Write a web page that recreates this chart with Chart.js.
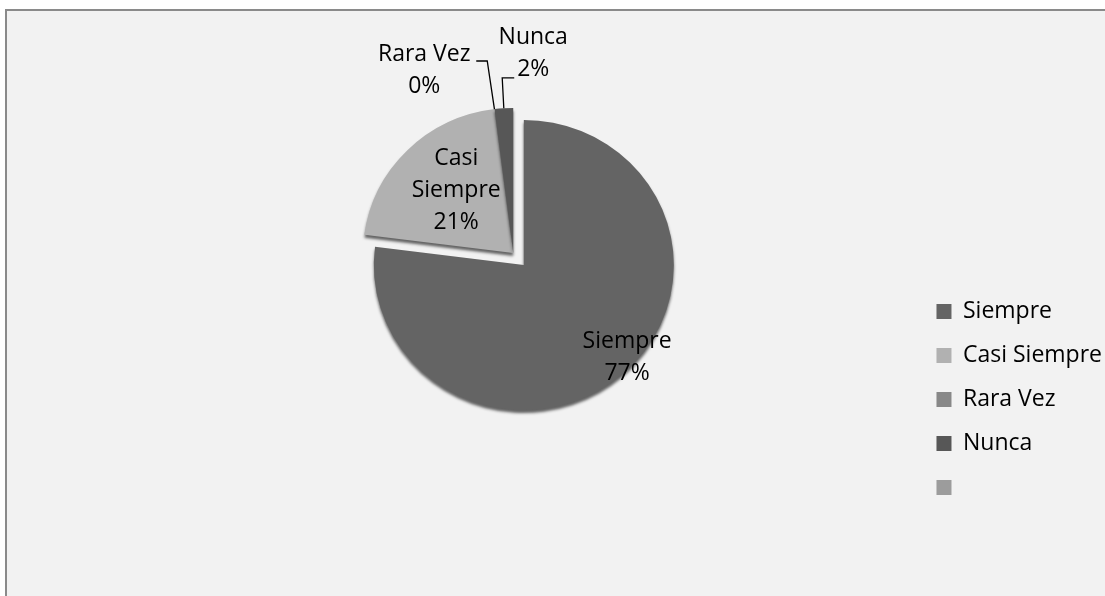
<!DOCTYPE html>
<html>
<head>
<meta charset="utf-8">
<script src="https://cdn.jsdelivr.net/npm/chart.js@4/dist/chart.umd.min.js"></script>
<style>
  html, body { margin: 0; padding: 0; background: #fff; overflow: hidden; }
  #frame { position: absolute; left: 5px; top: 9px; width: 1120px; height: 620px;
           background: #f2f2f2; border: 2px solid #8a8a8a; }
  #pie { position: absolute; left: 0; top: 0; }
</style>
</head>
<body>
<div id="frame"><canvas id="pie" width="1105" height="585"></canvas></div>
<script>
// chart data
const categories = ['Siempre', 'Casi Siempre', 'Rara Vez', 'Nunca', ''];
const percentages = [77, 21, 0, 2, 0];
const sliceColors = ['#646464', '#b1b1b1', '#888888', '#575757', '#9c9c9c'];

const FONT = '"Open Sans", sans-serif';
const LINE = 32;      // label line spacing
const CAP = 16;       // approx cap height, to centre lines
const TILT = 0.967;   // squash the pie a little like the 3D original
const explode = [16, 0, 0, 0, 0];

// where each slice label sits (inside: polar tweak, outside: offset from edge + leader)
const labelPlacement = [
  { inside: true, f: 0.932, da: -6.2 },
  { inside: true, f: 0.583, da: 4.3, wrap: true },
  { inside: false, dx: -70.2, dy: -39.6, ex: -7.2, ey: -48.1, hx: -11 },
  { inside: false, dx: 29.4, dy: -55.8, ex: -1.6, ey: -30.3, hx: 12 },
  null
];

// draw the arcs ourselves so the exploded slice is only moved, not enlarged
const pieDraw = {
  id: 'pieDraw',
  beforeDatasetsDraw(chart) {
    const ctx = chart.ctx;
    chart.getDatasetMeta(0).data.forEach((arc, i) => {
      const { x, y, startAngle, endAngle } =
        arc.getProps(['x', 'y', 'startAngle', 'endAngle'], true);
      const mid = (startAngle + endAngle) / 2;
      ctx.save();
      ctx.shadowColor = 'rgba(0,0,0,0.6)';
      ctx.shadowBlur = 3;
      ctx.shadowOffsetY = 3;
      ctx.translate(Math.cos(mid) * explode[i], Math.sin(mid) * explode[i]);
      ctx.translate(x, y);
      ctx.scale(1, TILT);
      ctx.translate(-x, -y);
      arc.draw(ctx);
      ctx.restore();
    });
    return false;
  }
};

const sliceLabels = {
  id: 'sliceLabels',
  afterDraw(chart) {
    const ctx = chart.ctx;
    const arcs = chart.getDatasetMeta(0).data;
    ctx.save();
    ctx.font = '23px ' + FONT;
    ctx.fillStyle = '#000';
    ctx.strokeStyle = '#000';
    ctx.lineWidth = 1.3;
    ctx.textAlign = 'center';
    ctx.textBaseline = 'alphabetic';
    arcs.forEach((arc, i) => {
      const p = labelPlacement[i];
      if (!p) return;
      const { x, y, startAngle, endAngle, outerRadius } =
        arc.getProps(['x', 'y', 'startAngle', 'endAngle', 'outerRadius'], true);
      const mid = (startAngle + endAngle) / 2;
      let cx, cy;
      if (p.inside) {
        const a = mid + p.da * Math.PI / 180;
        cx = x + Math.cos(mid) * explode[i] + Math.cos(a) * outerRadius * p.f;
        cy = y + Math.sin(mid) * explode[i] + Math.sin(a) * outerRadius * p.f * TILT;
      } else {
        const ax = x + Math.cos(mid) * outerRadius;
        const ay = y + Math.sin(mid) * outerRadius * TILT;
        cx = ax + p.dx;
        cy = ay + p.dy;
        ctx.beginPath();
        ctx.moveTo(ax, ay);
        ctx.lineTo(ax + p.ex, ay + p.ey);
        ctx.lineTo(ax + p.ex + p.hx, ay + p.ey);
        ctx.stroke();
      }
      const name = categories[i];
      const lines = (p.wrap ? name.split(' ') : [name]).concat(percentages[i] + '%');
      const n = lines.length;
      lines.forEach((t, k) => {
        ctx.fillText(t, cx, cy + (k - (n - 1) / 2) * LINE + CAP / 2);
      });
    });
    ctx.restore();
  }
};

new Chart(document.getElementById('pie'), {
  type: 'pie',
  data: {
    labels: categories,
    datasets: [{
      data: percentages,
      backgroundColor: sliceColors,
      borderWidth: 0,
      hoverOffset: 0,
      radius: 150
    }]
  },
  options: {
    responsive: false,
    animation: false,
    devicePixelRatio: 1,
    events: [],
    layout: { padding: { left: 104, right: 0, top: 0, bottom: 0 } },
    plugins: {
      legend: {
        position: 'right',
        align: 'center',
        fullSize: true,
        title: { display: true, text: '', padding: { top: 182, bottom: 0 }, font: { size: 10, lineHeight: 1 } },
        labels: {
          boxWidth: 15,
          boxHeight: 15,
          padding: 21,
          color: '#000',
          font: { family: FONT, size: 23 }
        }
      },
      // empty bottom title just lifts the pie inside the plot area
      title: {
        display: true, text: '', position: 'bottom', fullSize: false,
        padding: { top: 91, bottom: 0 }, font: { size: 10, lineHeight: 1 }
      },
      tooltip: { enabled: false }
    }
  },
  plugins: [pieDraw, sliceLabels]
});
</script>
</body>
</html>
